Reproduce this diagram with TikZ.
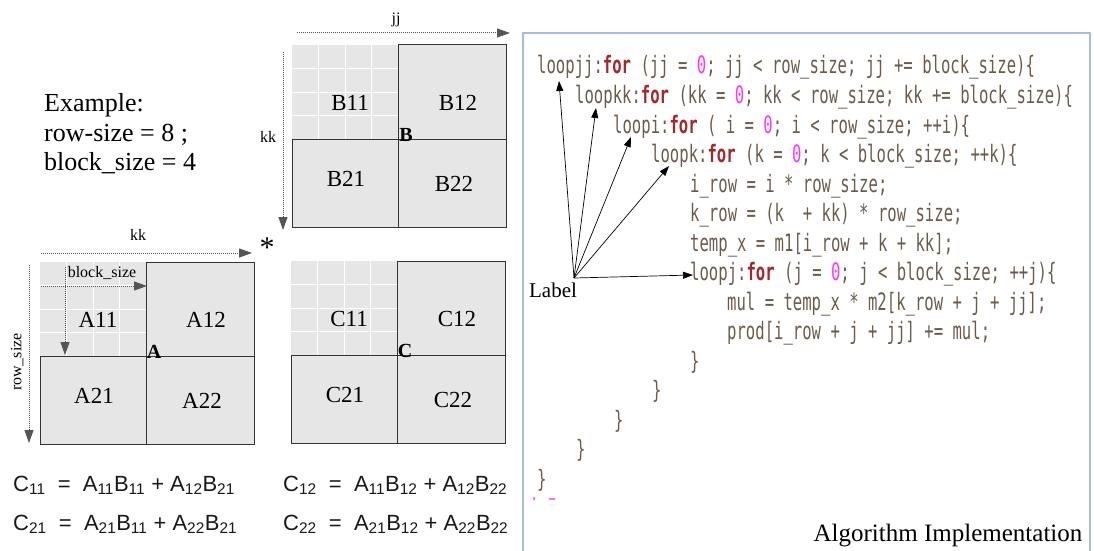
\documentclass[tikz,border=0pt]{standalone}
\usepackage{fontspec}
\setmainfont{Liberation Serif}
\newfontfamily\codefont[FakeStretch=0.65]{DejaVu Sans Mono}
\newfontfamily\formfont{Liberation Sans}
\usetikzlibrary{arrows.meta, positioning}
\definecolor{cellgray}{HTML}{E6E6E6}
\definecolor{codetext}{HTML}{6B5B4B}
\definecolor{kwred}{HTML}{A3262A}
\definecolor{litmag}{HTML}{FF33FF}
\definecolor{boxblue}{HTML}{A9BDD9}
\definecolor{dotgray}{HTML}{555555}
\tikzset{
  % Set arrowhead
  >={Triangle[length=13pt,width=9pt]},
  % dotted index arrows
  idx/.style={->, dotgray, densely dotted, line width=1pt},
  % arrows from the label
  lbl/.style={-{Triangle[length=10pt,width=7pt]}, line width=0.7pt},
  % block names
  blk/.style={font=\fontsize{23}{27}\selectfont},
  corner/.style={font=\fontsize{20}{24}\selectfont\bfseries},
  small/.style={font=\fontsize{16}{19}\selectfont},
  % code lines
  code/.style={anchor=base west, inner sep=0pt, text=codetext,
    font=\fontsize{24}{28}\selectfont\codefont},
  % formulas
  form/.style={anchor=base west, inner sep=0pt, text=black!90,
    font=\fontsize{22}{26}\selectfont\formfont},
}
\newcommand{\kwfor}{\textcolor{kwred}{\bfseries for}}
\newcommand{\lit}[1]{\textcolor{litmag}{#1}}
\newcommand{\ix}[1]{\textsubscript{#1}}

\begin{document}
\begin{tikzpicture}[x=1pt, y=-1pt]
  \useasboundingbox (0,0) rectangle (1094,551);

  % the three block matrices
  \foreach \mx/\my/\nm in {292/45/B, 40/262/A, 291/261/C}{
    \begin{scope}[shift={(\mx,\my)}]
      \fill[cellgray] (0,0) rectangle (214,182);
      \foreach \g in {1,2,3}
        \draw[white, line width=1pt] (26.5*\g,0) -- (26.5*\g,94)
          (0,23.5*\g) -- (106,23.5*\g);
      \draw[line width=1pt, black!80] (106,0) rectangle (214,94)
        (0,94) rectangle (106,182) (106,94) rectangle (214,182);
      \node[blk] (\nm11) at (58,58) {\nm11};
      \node[blk] (\nm12) at (166,58) {\nm12};
      \node[blk] (\nm21) at (54,134) {\nm21};
      \node[blk] (\nm22) at (162,139) {\nm22};
      \node[corner] (\nm) at (114,90) {\nm};
    \end{scope}
  }

  % example values
  \node[anchor=base west, inner sep=0pt, font=\fontsize{26}{29}\selectfont] (ex1) at (44,111) {Example:};
  \node[anchor=base west, inner sep=0pt, font=\fontsize{26}{29}\selectfont] (ex2) at (44,141) {row-size = 8 ;};
  \node[anchor=base west, inner sep=0pt, font=\fontsize{26}{29}\selectfont] (ex3) at (44,170) {block\_size = 4};

  % index arrows
  \coordinate (jjs) at (297,33);  \coordinate (jje) at (510,33);
  \coordinate (kks) at (283,52);  \coordinate (kke) at (283,230);
  \coordinate (kas) at (41,253);  \coordinate (kae) at (252,253);
  \coordinate (rss) at (29,265);  \coordinate (rse) at (29,443);
  \coordinate (bhs) at (41,286);  \coordinate (bhe) at (147,286);
  \coordinate (bvs) at (65,267);  \coordinate (bve) at (65,355);
  \draw[idx] (jjs) -- (jje);
  \draw[idx] (kks) -- (kke);
  \draw[idx] (kas) -- (kae);
  \draw[idx] (rss) -- (rse);
  \draw[idx] (bhs) -- (bhe);
  \draw[idx] (bvs) -- (bve);
  \node[small] (jj) at (396,20) {jj};
  \node[small] (kkb) at (268,137) {kk};
  \node[small] (kka) at (138,235) {kk};
  \node[small, rotate=90] (rows) at (17,362) {row\_size};
  \node[small] (bsz) at (102,273) {block\_size};
  \node[anchor=base, inner sep=0pt, font=\fontsize{30}{30}\selectfont] (star) at (267,257) {*};

  % formulas
  \node[form] (f11) at (13,491) {C\ix{11}\ \ =\ \ A\ix{11}B\ix{11} + A\ix{12}B\ix{21}};
  \node[form] (f12) at (283,491) {C\ix{12}\ \ =\ \ A\ix{11}B\ix{12} + A\ix{12}B\ix{22}};
  \node[form] (f21) at (13,530) {C\ix{21}\ \ =\ \ A\ix{21}B\ix{11} + A\ix{22}B\ix{21}};
  \node[form] (f22) at (283,530) {C\ix{22}\ \ =\ \ A\ix{21}B\ix{12} + A\ix{22}B\ix{22}};

  % code panel
  \draw[boxblue, line width=1.3pt] (523,551) -- (523,33) -- (1090,33) -- (1090,551);
  \node[code] (l1) at (537,74) {loopjj:\kwfor{} (jj = \lit{0}; jj < row\_size; jj += block\_size)\{};
  \node[code] (l2) at (575,103.5) {loopkk:\kwfor{} (kk = \lit{0}; kk < row\_size; kk += block\_size)\{};
  \node[code] (l3) at (613,133) {loopi:\kwfor{} ( i = \lit{0}; i < row\_size; ++i)\{};
  \node[code] (l4) at (651,162.5) {loopk:\kwfor{} (k = \lit{0}; k < block\_size; ++k)\{};
  \node[code] (l5) at (690,192) {i\_row = i * row\_size;};
  \node[code] (l6) at (690,221.5) {k\_row = (k\ \ + kk) * row\_size;};
  \node[code] (l7) at (690,251) {temp\_x = m1[i\_row + k + kk];};
  \node[code] (l8) at (690,280.5) {loopj:\kwfor{} (j = \lit{0}; j < block\_size; ++j)\{};
  \node[code] (l9) at (727,310) {mul = temp\_x * m2[k\_row + j + jj];};
  \node[code] (l10) at (727,339.5) {prod[i\_row + j + jj] += mul;};
  \node[code] (c1) at (690,369) {\}};
  \node[code] (c2) at (652,398.5) {\}};
  \node[code] (c3) at (614,428) {\}};
  \node[code] (c4) at (576,457.5) {\}};
  \node[code] (c5) at (537,487) {\}};
  \fill[litmag!70] (533,497) rectangle (535,500) (549,498) rectangle (555,500);

  % label arrows
  \node[font=\fontsize{21}{25}\selectfont] (lab) at (553,290) {Label};
  \coordinate (hub) at (574,278);
  \coordinate (tjj) at (559,81);
  \coordinate (tkk) at (596,108);
  \coordinate (ti) at (631,137);
  \coordinate (tk) at (669,166);
  \coordinate (tj) at (693,275);
  \foreach \t in {tjj,tkk,ti,tk,tj}
    \draw[lbl] (hub) -- (\t);

  \node[font=\fontsize{25}{29}\selectfont] (algo) at (948,536) {Algorithm Implementation};
\end{tikzpicture}
\end{document}
